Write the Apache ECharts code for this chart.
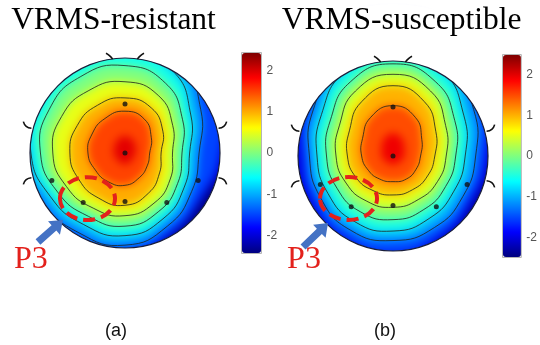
<!DOCTYPE html>
<html>
<head>
<meta charset="utf-8">
<script src="https://cdn.jsdelivr.net/npm/echarts@6/dist/echarts.min.js"></script>
<style>
  html, body { margin: 0; padding: 0; background: #fff; }
  #chart { width: 540px; height: 345px; }
</style>
</head>
<body>
<div id="chart"></div>
<script>
// contour levels of the maps, outermost first; band colours use bandValues
const levels = [-2.25, -1.75, -1.25, -0.75, -0.25, 0.25, 0.75, 1.25, 1.75];
const bandValues = [-2.0, -1.5, -1.0, -0.5, 0, 0.5, 1.0, 1.5, 1.95];
const drawnLevels = [-1.25, -0.75, -0.25, 0.25, 0.75, 1.25];
const floorA = -2.4;
const floorB = -2.4;

// contour radius (head radius = 1) read at these directions, degrees anticlockwise from the right ear
const angles = [0, 30, 60, 90, 120, 150, 180, 210, 240, 270, 300, 330];

const radiiA = [
  [1.1, 1.3, 1.4, 1.45, 1.45, 1.4, 1.35, 1.2, 1.18, 1.15, 1.0, 0.95],
  [1.0, 1.15, 1.35, 1.4, 1.4, 1.3, 1.25, 1.12, 1.08, 1.06, 0.97, 0.92],
  [0.78, 0.92, 1.15, 1.3, 1.3, 1.2, 1.12, 1.01, 0.97, 0.97, 0.89, 0.81],
  [0.68, 0.8, 1.0, 1.1, 1.1, 1.05, 0.99, 0.91, 0.87, 0.87, 0.8, 0.72],
  [0.6, 0.7, 0.85, 0.92, 0.93, 0.92, 0.89, 0.82, 0.77, 0.77, 0.71, 0.64],
  [0.5, 0.58, 0.7, 0.75, 0.76, 0.77, 0.76, 0.71, 0.67, 0.66, 0.61, 0.55],
  [0.38, 0.46, 0.55, 0.58, 0.58, 0.58, 0.58, 0.56, 0.55, 0.55, 0.49, 0.42],
  [0.26, 0.32, 0.41, 0.44, 0.42, 0.4, 0.39, 0.36, 0.35, 0.34, 0.3, 0.27],
  [0.11, 0.13, 0.16, 0.18, 0.16, 0.13, 0.12, 0.11, 0.11, 0.12, 0.11, 0.1]
];

const radiiB = [
  [1.05, 1.25, 1.4, 1.5, 1.4, 1.2, 1.05, 1.06, 1.12, 1.12, 1.03, 0.98],
  [0.97, 1.1, 1.3, 1.4, 1.25, 1.05, 0.95, 0.96, 1.0, 1.02, 0.97, 0.93],
  [0.87, 0.98, 1.15, 1.25, 1.12, 0.97, 0.88, 0.88, 0.9, 0.89, 0.87, 0.85],
  [0.76, 0.86, 1.03, 1.1, 1.02, 0.87, 0.8, 0.79, 0.8, 0.79, 0.76, 0.74],
  [0.66, 0.75, 0.9, 0.97, 0.9, 0.76, 0.7, 0.68, 0.68, 0.67, 0.65, 0.64],
  [0.56, 0.64, 0.79, 0.86, 0.79, 0.65, 0.6, 0.57, 0.55, 0.54, 0.53, 0.54],
  [0.44, 0.52, 0.66, 0.74, 0.66, 0.53, 0.48, 0.45, 0.42, 0.41, 0.41, 0.42],
  [0.29, 0.35, 0.47, 0.53, 0.47, 0.37, 0.33, 0.3, 0.28, 0.27, 0.28, 0.28],
  [0.12, 0.14, 0.2, 0.24, 0.2, 0.14, 0.12, 0.1, 0.09, 0.09, 0.09, 0.1]
];

// electrode positions (x, y), head radius = 1, nose up
const electrodesA = [[0, 0.516], [0, 0], [-0.77, -0.29], [0.77, -0.29], [-0.44, -0.52], [0, -0.51], [0.44, -0.52]];
const electrodesB = [[0, 0.516], [0, 0], [-0.765, -0.3], [0.78, -0.3], [-0.44, -0.533], [0, -0.52], [0.456, -0.533]];

// nose and ear stubs
const headMarks = [
  [[-0.13, 0.99], [-0.17, 1.03], [-0.2, 1.05]],
  [[0.13, 0.99], [0.17, 1.03], [0.2, 1.05]],
  [[-0.985, 0.26], [-1.04, 0.28], [-1.07, 0.33]],
  [[-0.985, -0.26], [-1.04, -0.28], [-1.07, -0.33]],
  [[0.985, 0.26], [1.04, 0.28], [1.07, 0.33]],
  [[0.985, -0.26], [1.04, -0.28], [1.07, -0.33]]
];

const colorTicks = [-2, -1, 0, 1, 2];
const rangeA = [-2.43, 2.43];
const rangeB = [-2.5, 2.5];
const titles = ['VRMS-resistant', 'VRMS-susceptible'];
const panelLabels = ['(a)', '(b)'];

const jet = ['#00007f', '#0000ff', '#007fff', '#00ffff', '#7fff7f', '#ffff00', '#ff7f00', '#ff0000', '#7f0000'];

// layout (pixels)
const R = 95;
const EXT = 1.3;
const headA = {cx: 125, cy: 153};
const headB = {cx: 393, cy: 156};
const barA = {left: 242, top: 53, width: 19, height: 200};
const barB = {left: 503, top: 55, width: 18, height: 202};
const annA = {ellipse: [-0.395, -0.48, 0.29, 0.226], arrow: [[-0.916, -0.937], [-0.653, -0.705]], label: [-0.99, -1.126]};
const annB = {ellipse: [-0.468, -0.447, 0.3, 0.226], arrow: [[-0.947, -0.958], [-0.684, -0.705]], label: [-0.937, -1.095]};
const TOP = 1; // zlevel for everything drawn above the soft-shaded maps

function outline(radii) {
  return radii.map((r, i) => {
    const a = angles[i] * Math.PI / 180;
    return [r * Math.cos(a), r * Math.sin(a)];
  });
}
const contoursA = radiiA.map(outline);
const contoursB = radiiB.map(outline);

function headGrid(h) {
  return {left: h.cx - EXT * R, top: h.cy - EXT * R, width: 2 * EXT * R, height: 2 * EXT * R, show: false};
}

function fillItem(contours) {
  return function (params, api) {
    const idx = api.value(0);
    const color = api.visual('color');
    if (idx < 0) {
      const c = api.coord([0, 0]);
      return {type: 'circle', z2: 0, shape: {cx: c[0], cy: c[1], r: api.size([EXT, 0])[0]}, style: {fill: color}};
    }
    return {
      type: 'polygon',
      z2: idx + 1,
      shape: {points: contours[idx].map(p => api.coord(p)), smooth: 0.5},
      style: {fill: color}
    };
  };
}

function lineItem(contours) {
  return function (params, api) {
    const idx = api.value(0);
    return {
      type: 'polygon',
      shape: {points: contours[idx].map(p => api.coord(p)), smooth: 0.5},
      style: {fill: null, stroke: 'rgba(30,35,30,0.8)', lineWidth: 1}
    };
  };
}

function maskItem(params, api) {
  const c = api.coord([0, 0]);
  const r = api.size([1, 0])[0];
  const children = [
    {type: 'ring', shape: {cx: c[0], cy: c[1], r: r * 1.6, r0: r}, style: {fill: '#fff'}},
    {type: 'circle', shape: {cx: c[0], cy: c[1], r: r}, style: {fill: null, stroke: '#1a1f3a', lineWidth: 1.2}}
  ];
  headMarks.forEach(m => {
    children.push({type: 'polyline', shape: {points: m.map(p => api.coord(p)), smooth: 0.5},
      style: {fill: null, stroke: '#111', lineWidth: 1.6}});
  });
  return {type: 'group', children: children};
}

function annotItem(ann) {
  return function (params, api) {
    const c = api.coord(ann.ellipse.slice(0, 2));
    const rx = api.size([ann.ellipse[2], 0])[0];
    const ry = api.size([0, ann.ellipse[3]])[1];
    const t = api.coord(ann.arrow[0]);
    const h = api.coord(ann.arrow[1]);
    const dx = h[0] - t[0], dy = h[1] - t[1];
    const len = Math.hypot(dx, dy);
    const ux = dx / len, uy = dy / len, nx = -uy, ny = ux;
    const neck = [h[0] - ux * 12, h[1] - uy * 12];
    const w = 3.6, hw = 9;
    const pts = [
      [t[0] + nx * w, t[1] + ny * w], [neck[0] + nx * w, neck[1] + ny * w], [neck[0] + nx * hw, neck[1] + ny * hw],
      h,
      [neck[0] - nx * hw, neck[1] - ny * hw], [neck[0] - nx * w, neck[1] - ny * w], [t[0] - nx * w, t[1] - ny * w]
    ];
    const l = api.coord(ann.label);
    return {type: 'group', children: [
      {type: 'ellipse', shape: {cx: c[0], cy: c[1], rx: rx, ry: ry},
        style: {fill: null, stroke: '#e3211c', lineWidth: 4, lineDash: [12, 6]}},
      {type: 'polygon', shape: {points: pts}, style: {fill: '#4472c4'}},
      {type: 'text', style: {x: l[0], y: l[1], text: 'P3', fill: '#e3211c', fontSize: 32,
        fontFamily: '"Liberation Serif", serif', align: 'center', verticalAlign: 'middle'}}
    ]};
  };
}

function fillData(floor) {
  return [[-1, floor]].concat(levels.map((lv, i) => [i, bandValues[i]]));
}
const drawnIdx = drawnLevels.map(lv => [levels.indexOf(lv), lv]);

function barGrid(b) {
  return {left: b.left - 0.5, top: b.top - 0.5, width: b.width + 1, height: b.height + 1, show: true,
    borderColor: '#b5b5b5', borderWidth: 1, backgroundColor: 'transparent', zlevel: TOP, z: 7};
}
function barAxis(gridIndex, range) {
  return {
    gridIndex: gridIndex, type: 'value', min: range[0], max: range[1], position: 'right', zlevel: TOP, z: 7,
    axisLine: {show: false}, axisTick: {show: false}, splitLine: {show: false},
    axisLabel: {customValues: colorTicks, color: '#555', fontSize: 12, margin: 5, fontFamily: 'Liberation Sans, Arial'}
  };
}
function hiddenAxis(gridIndex, extra) {
  return Object.assign({gridIndex: gridIndex, type: 'value', show: false}, extra || {});
}

const chart = echarts.init(document.getElementById('chart'));

chart.setOption({
  animation: false,
  grid: [headGrid(headA), headGrid(headB), barGrid(barA), barGrid(barB)],
  xAxis: [
    hiddenAxis(0, {min: -EXT, max: EXT}), hiddenAxis(1, {min: -EXT, max: EXT}),
    hiddenAxis(2, {min: 0, max: 1}), hiddenAxis(3, {min: 0, max: 1})
  ],
  yAxis: [
    hiddenAxis(0, {min: -EXT, max: EXT}), hiddenAxis(1, {min: -EXT, max: EXT}),
    barAxis(2, rangeA), barAxis(3, rangeB)
  ],
  visualMap: [
    {type: 'continuous', seriesIndex: 0, dimension: 1, min: rangeA[0], max: rangeA[1], calculable: false,
      inRange: {color: jet}, itemWidth: barA.width, itemHeight: barA.height, left: barA.left, top: barA.top,
      padding: 0, text: null, hoverLink: false, zlevel: TOP, z: 5},
    {type: 'continuous', seriesIndex: 1, dimension: 1, min: rangeB[0], max: rangeB[1], calculable: false,
      inRange: {color: jet}, itemWidth: barB.width, itemHeight: barB.height, left: barB.left, top: barB.top,
      padding: 0, text: null, hoverLink: false, zlevel: TOP, z: 5}
  ],
  series: [
    // shaded bands sit alone on zlevel 0, softened below
    {type: 'custom', xAxisIndex: 0, yAxisIndex: 0, zlevel: 0, z: 1, silent: true, renderItem: fillItem(contoursA), data: fillData(floorA)},
    {type: 'custom', xAxisIndex: 1, yAxisIndex: 1, zlevel: 0, z: 1, silent: true, renderItem: fillItem(contoursB), data: fillData(floorB)},
    {type: 'custom', xAxisIndex: 0, yAxisIndex: 0, zlevel: TOP, z: 2, silent: true, renderItem: lineItem(contoursA), data: drawnIdx},
    {type: 'custom', xAxisIndex: 1, yAxisIndex: 1, zlevel: TOP, z: 2, silent: true, renderItem: lineItem(contoursB), data: drawnIdx},
    {type: 'custom', xAxisIndex: 0, yAxisIndex: 0, zlevel: TOP, z: 3, silent: true, renderItem: maskItem, data: [[0, 0]]},
    {type: 'custom', xAxisIndex: 1, yAxisIndex: 1, zlevel: TOP, z: 3, silent: true, renderItem: maskItem, data: [[0, 0]]},
    {type: 'scatter', xAxisIndex: 0, yAxisIndex: 0, zlevel: TOP, z: 4, symbolSize: 5, itemStyle: {color: '#111'}, data: electrodesA},
    {type: 'scatter', xAxisIndex: 1, yAxisIndex: 1, zlevel: TOP, z: 4, symbolSize: 5, itemStyle: {color: '#111'}, data: electrodesB},
    {type: 'custom', xAxisIndex: 0, yAxisIndex: 0, zlevel: TOP, z: 6, silent: true, renderItem: annotItem(annA), data: [[0, 0]]},
    {type: 'custom', xAxisIndex: 1, yAxisIndex: 1, zlevel: TOP, z: 6, silent: true, renderItem: annotItem(annB), data: [[0, 0]]}
  ],
  graphic: [
    {type: 'text', x: 113.5, y: 21, zlevel: TOP, z: 10, style: {text: titles[0], fill: '#000', fontSize: 31.5,
      fontFamily: '"Liberation Serif", serif', align: 'center', verticalAlign: 'middle'}},
    {type: 'text', x: 401.5, y: 21, zlevel: TOP, z: 10, style: {text: titles[1], fill: '#000', fontSize: 31.5,
      fontFamily: '"Liberation Serif", serif', align: 'center', verticalAlign: 'middle'}},
    {type: 'text', x: 116, y: 331, zlevel: TOP, z: 10, style: {text: panelLabels[0], fill: '#111', fontSize: 18,
      fontFamily: '"Liberation Sans", Arial, sans-serif', align: 'center', verticalAlign: 'middle'}},
    {type: 'text', x: 385, y: 331, zlevel: TOP, z: 10, style: {text: panelLabels[1], fill: '#111', fontSize: 18,
      fontFamily: '"Liberation Sans", Arial, sans-serif', align: 'center', verticalAlign: 'middle'}}
  ]
});

// soften the stepped bands into a continuous shading
const shadeLayer = document.querySelector('#chart canvas[data-zr-dom-id="zr_0"]');
if (shadeLayer) {
  shadeLayer.style.filter = 'blur(4px)';
}
</script>
</body>
</html>
